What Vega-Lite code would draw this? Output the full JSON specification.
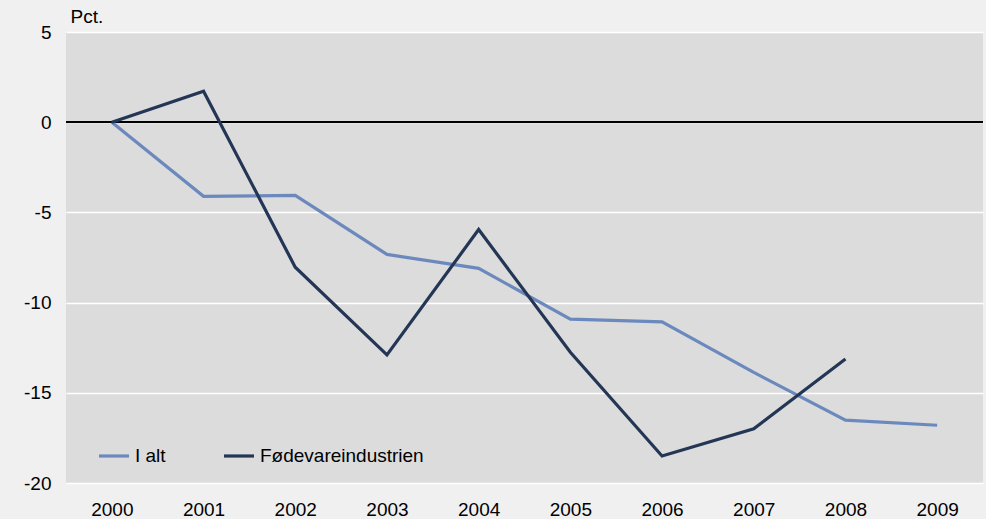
{
  "$schema": "https://vega.github.io/schema/vega-lite/v6.json",
  "width": 917,
  "height": 451,
  "autosize": {"type": "none"},
  "padding": {"left": 66, "top": 32, "right": 3, "bottom": 36},
  "background": "#f0f0f0",
  "config": {
    "font": "Liberation Sans",
    "view": {"fill": "#dcdcdc", "stroke": null}
  },
  "data": {
    "values": [
      {"year": "2000", "series": "I alt", "value": 0},
      {"year": "2001", "series": "I alt", "value": -4.11},
      {"year": "2002", "series": "I alt", "value": -4.06},
      {"year": "2003", "series": "I alt", "value": -7.33},
      {"year": "2004", "series": "I alt", "value": -8.1},
      {"year": "2005", "series": "I alt", "value": -10.92},
      {"year": "2006", "series": "I alt", "value": -11.07},
      {"year": "2007", "series": "I alt", "value": -13.87},
      {"year": "2008", "series": "I alt", "value": -16.52},
      {"year": "2009", "series": "I alt", "value": -16.8},
      {"year": "2000", "series": "Fødevareindustrien", "value": 0},
      {"year": "2001", "series": "Fødevareindustrien", "value": 1.72},
      {"year": "2002", "series": "Fødevareindustrien", "value": -8.04},
      {"year": "2003", "series": "Fødevareindustrien", "value": -12.9},
      {"year": "2004", "series": "Fødevareindustrien", "value": -5.95},
      {"year": "2005", "series": "Fødevareindustrien", "value": -12.75},
      {"year": "2006", "series": "Fødevareindustrien", "value": -18.5},
      {"year": "2007", "series": "Fødevareindustrien", "value": -17.0},
      {"year": "2008", "series": "Fødevareindustrien", "value": -13.13}
    ]
  },
  "layer": [
    {
      "mark": {"type": "rule", "color": "black", "strokeWidth": 1.2},
      "encoding": {"y": {"datum": 0, "type": "quantitative"}}
    },
    {
      "mark": {"type": "line", "strokeWidth": 3.2, "strokeJoin": "miter"},
      "encoding": {
        "x": {
          "field": "year",
          "type": "ordinal",
          "scale": {"type": "point", "padding": 0.5},
          "axis": {
            "title": null,
            "labelAngle": 0,
            "labelFontSize": 19,
            "labelColor": "black",
            "labelPadding": 17,
            "ticks": false,
            "domain": false,
            "grid": false
          }
        },
        "y": {
          "field": "value",
          "type": "quantitative",
          "scale": {"domain": [-20, 5], "nice": false, "zero": false},
          "axis": {
            "values": [-20, -15, -10, -5, 0, 5],
            "labelExpr": "replace(datum.label, '\u2212', '-')",
            "title": "Pct.",
            "titleAngle": 0,
            "titleAlign": "left",
            "titleBaseline": "alphabetic",
            "titleX": 4,
            "titleY": -10,
            "titleFontSize": 19,
            "titleFontWeight": "normal",
            "titleColor": "black",
            "labelFontSize": 19,
            "labelColor": "black",
            "labelPadding": 15,
            "ticks": false,
            "domain": false,
            "grid": true,
            "gridColor": "white",
            "gridWidth": 1.3,
            "gridOpacity": 1
          }
        },
        "color": {
          "field": "series",
          "type": "nominal",
          "scale": {
            "domain": ["I alt", "Fødevareindustrien"],
            "range": ["#6c89bd", "#243655"]
          },
          "legend": {
            "title": null,
            "orient": "none",
            "direction": "horizontal",
            "legendX": 31,
            "legendY": 407,
            "padding": 0,
            "symbolType": "stroke",
            "symbolSize": 900,
            "symbolStrokeWidth": 3.2,
            "labelFontSize": 19,
            "labelLimit": 400,
            "labelColor": "black",
            "labelOffset": 4,
            "columnPadding": 51
          }
        }
      }
    }
  ]
}
